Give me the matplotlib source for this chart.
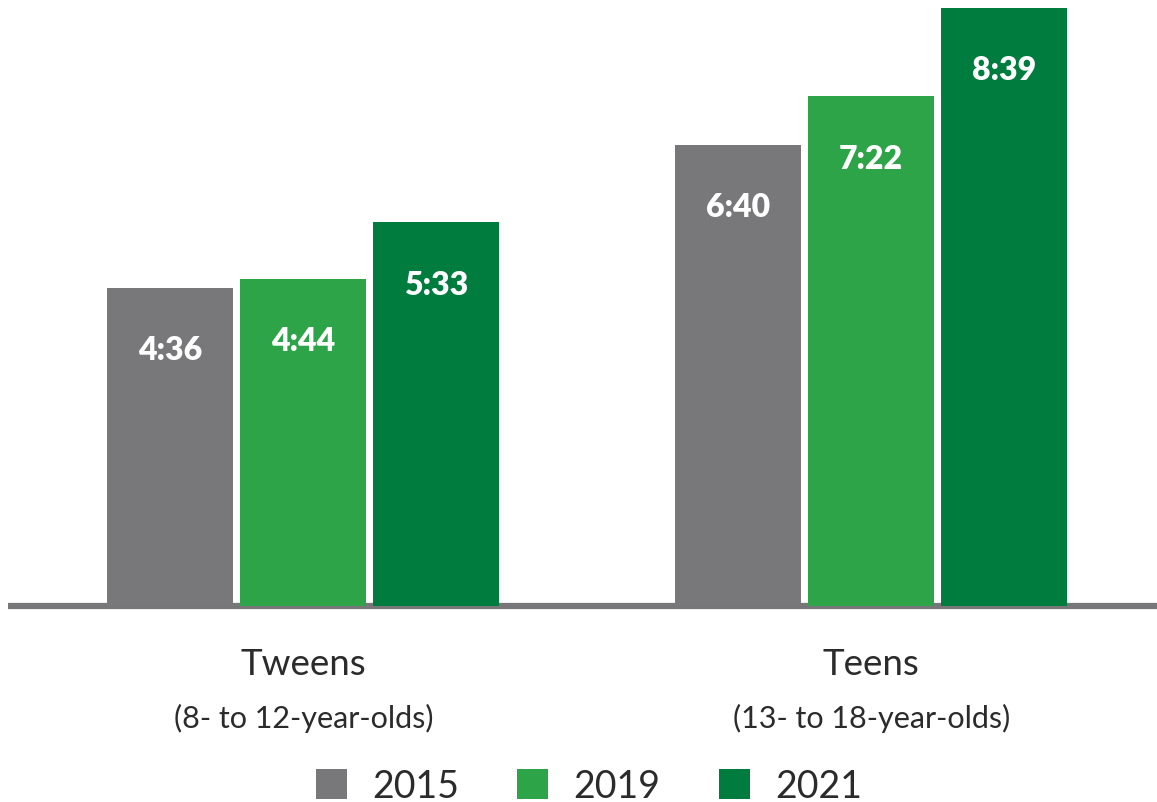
import numpy as np
import matplotlib.pyplot as plt
from matplotlib.transforms import blended_transform_factory

# Data: average daily screen time (h:mm) per age group and survey year
groups = ["Tweens", "Teens"]
group_ages = ["(8- to 12-year-olds)", "(13- to 18-year-olds)"]
years = ["2015", "2019", "2021"]
time_2015 = ["4:36", "6:40"]
time_2019 = ["4:44", "7:22"]
time_2021 = ["5:33", "8:39"]

colors = ["#78787b", "#2ea449", "#007c3e"]
text_dark = "#2b2b2b"


def to_minutes(label):
    h, m = label.split(":")
    return int(h) * 60 + int(m)


series = [time_2015, time_2019, time_2021]

plt.rcParams['font.family'] = ['Lato', 'DejaVu Sans']

fig = plt.figure(figsize=(11.57, 8.03), dpi=100)
ax = fig.add_axes([0, 196 / 803, 1, 607 / 803])

x = np.arange(len(groups))
step = 0.234
width = 0.222

bars = []
for i, (labels, col) in enumerate(zip(series, colors)):
    vals = [to_minutes(s) for s in labels]
    b = ax.bar(x + (i - 1) * step, vals, width=width, color=col, zorder=2)
    bars.append(b)
    for rect, lab in zip(b, labels):
        ax.annotate(lab, (rect.get_x() + rect.get_width() / 2, rect.get_height()),
                    xytext=(0, -62), textcoords="offset pixels",
                    ha="center", va="center", color="white",
                    fontsize=23, fontweight="heavy", zorder=3)

ax.set_xlim(-0.534, 1.503)
ax.set_ylim(0, 526.4)
ax.axis("off")

# baseline under the bars
ax.plot([-0.52, 1.503], [0, 0], color="#77777a", lw=4.5,
        solid_capstyle="butt", clip_on=False, zorder=1)

# group labels below the baseline
trans = blended_transform_factory(ax.transData, fig.transFigure)
for xi, name, ages in zip(x, groups, group_ages):
    ax.text(xi, 1 - 665 / 803, name, transform=trans, ha="center", va="center",
            fontsize=26.5, color=text_dark)
    ax.text(xi, 1 - 718 / 803, ages, transform=trans, ha="center", va="center",
            fontsize=22, color=text_dark)

fig.legend([b[0] for b in bars], years, loc="center", ncol=3,
           bbox_to_anchor=(0.509, 1 - 787 / 803), frameon=False,
           fontsize=27, handlelength=0.83, handleheight=0.83,
           handletextpad=0.67, columnspacing=1.55, labelcolor=text_dark,
           borderpad=0)

fig.savefig("out.png", dpi=100)
